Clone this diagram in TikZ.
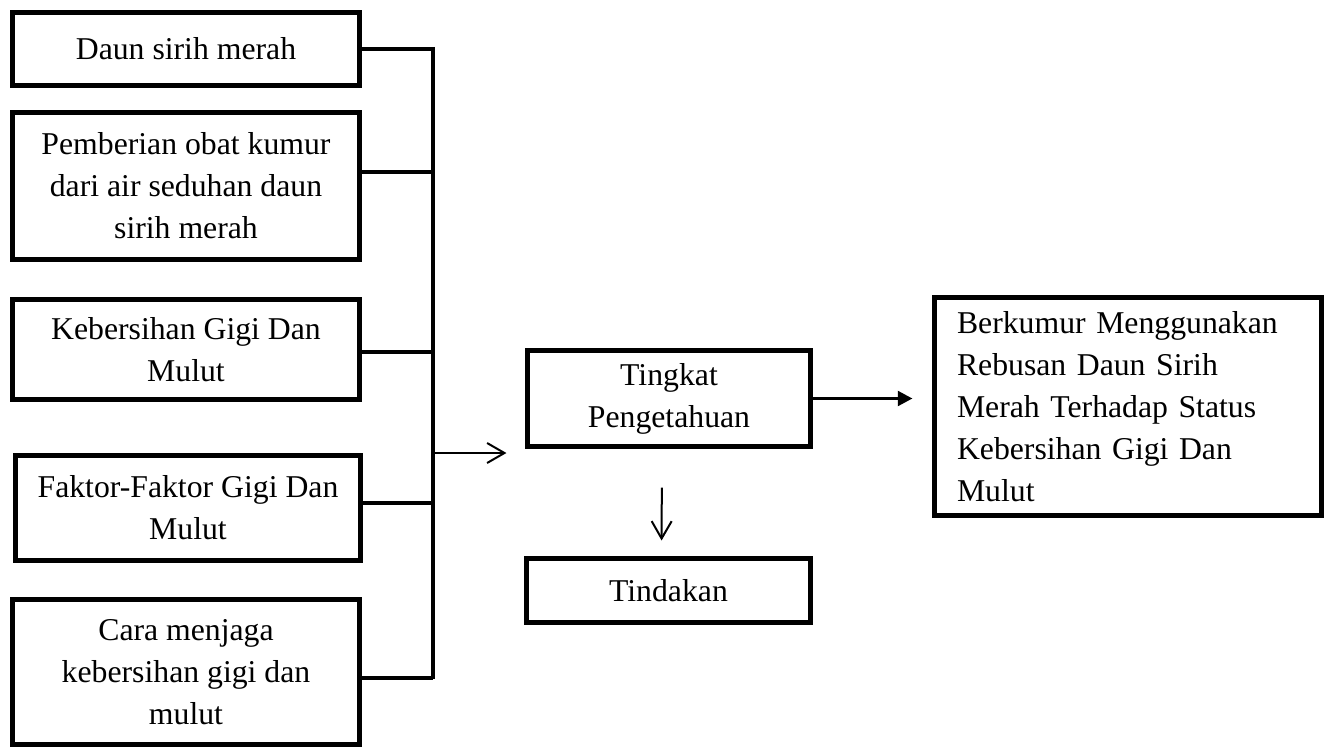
\documentclass[tikz,border=0pt]{standalone}
\usepackage{fontspec}
\setmainfont{Liberation Serif}
\usetikzlibrary{arrows.meta}
\tikzset{
  box/.style={draw,line width=3.8pt,minimum width=260.25pt,align=center,inner sep=0pt,font=\fontsize{23.8}{31.5}\selectfont},
  wire/.style={line width=2.6pt},
  thinarrow/.style={line width=1.5pt,-{Straight Barb[length=13pt,width=15pt]}},
  fatarrow/.style={line width=2.4pt,-{Triangle[length=11pt,width=11pt]}}
}
\begin{document}
\begin{tikzpicture}[x=0.75pt,y=-0.75pt]
\useasboundingbox (0,0) rectangle (1331,749);
\node[box,minimum height=54.75pt] (daun) at (186,49) {Daun sirih merah};
\node[box,minimum height=110.25pt] (obat) at (186,186) {Pemberian obat kumur\\dari air seduhan daun\\sirih merah};
\node[box,minimum height=75pt] (bersih) at (186,349.5) {Kebersihan Gigi Dan\\Mulut};
\node[box,minimum width=258.75pt,minimum height=78.75pt] (faktor) at (188,508) {Faktor-Faktor Gigi Dan\\Mulut};
\node[box,minimum height=108.75pt] (cara) at (186,672) {Cara menjaga\\kebersihan gigi dan\\mulut};
\node[box,minimum width=212.25pt,minimum height=72pt] (tahu) at (669,398.5) {Tingkat\\Pengetahuan};
\node[box,minimum width=213pt,minimum height=48pt] (tindak) at (668.5,590.5) {Tindakan};
\node[box,text width=256.5pt,inner xsep=16.9pt,minimum height=163.5pt,align=left] (hasil) at (1128,406.5) {Berkumur Menggunakan\\Rebusan Daun Sirih\\Merah Terhadap Status\\Kebersihan Gigi Dan\\Mulut};
\coordinate (bustop) at (433,47);
\coordinate (busbot) at (433,679);
\coordinate (feed) at (433,453);
\draw[wire] (bustop) -- (busbot);
\foreach \b/\dy in {daun/0,obat/10.5,bersih/-1.9,faktor/3.75,cara/-4.5}
  \draw[wire] ([yshift=\dy pt]\b.east) coordinate (w) -- (w -| bustop);
\draw[thinarrow,shorten >=13.9pt] (feed) -- (feed -| tahu.west);
\draw[fatarrow,shorten >=14.6pt] (tahu.east) -- (tahu.east -| hasil.west);
\draw[thinarrow,shorten <=28.9pt,shorten >=11.6pt] ([xshift=-5.25pt]tahu.south) -- ([xshift=-5.25pt]tindak.north);
\end{tikzpicture}
\end{document}
